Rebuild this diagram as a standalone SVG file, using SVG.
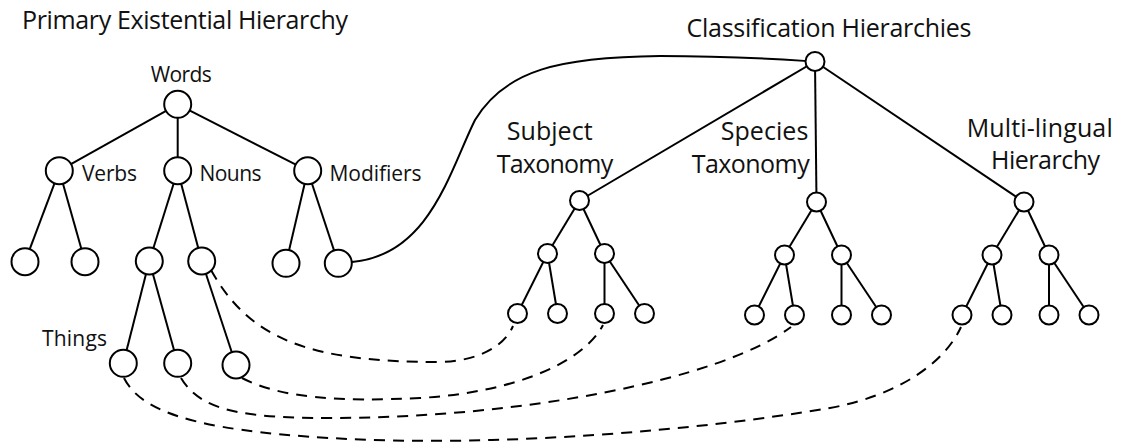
<svg xmlns="http://www.w3.org/2000/svg" width="1123" height="448" viewBox="0 0 1123 448">
<style>
.e{stroke:#000;stroke-width:2;fill:none}
.d{stroke:#000;stroke-width:2;fill:none;stroke-dasharray:11 8}
.n{fill:#fff;stroke:#000;stroke-width:2}
.t{font-family:"Open Sans","Liberation Sans",Arial,sans-serif;fill:#111}
.s{font-size:21px}
.b{font-size:25px}
</style>
<rect width="1123" height="448" fill="#fff"/>
<text class="t b" x="22" y="28.5" textLength="326">Primary Existential Hierarchy</text>
<text class="t b" x="686.5" y="36.7" textLength="285">Classification Hierarchies</text>
<g id="connectors">
  <!-- left tree -->
  <line class="e" x1="177.7" y1="104.3" x2="59.3" y2="170.7"/>
  <line class="e" x1="177.7" y1="104.3" x2="177.7" y2="170.7"/>
  <line class="e" x1="177.7" y1="104.3" x2="307.7" y2="170.7"/>
  <line class="e" x1="59.3" y1="170.7" x2="25" y2="261.7"/>
  <line class="e" x1="59.3" y1="170.7" x2="85" y2="261.7"/>
  <line class="e" x1="177.7" y1="170.7" x2="149.3" y2="261"/>
  <line class="e" x1="177.7" y1="170.7" x2="201.7" y2="261"/>
  <line class="e" x1="307.7" y1="170.7" x2="286" y2="263.3"/>
  <line class="e" x1="307.7" y1="170.7" x2="338.3" y2="263.3"/>
  <line class="e" x1="149.3" y1="261" x2="123.3" y2="363.3"/>
  <line class="e" x1="149.3" y1="261" x2="177.7" y2="363.3"/>
  <line class="e" x1="201.7" y1="261" x2="236" y2="365"/>
  <!-- link Modifiers leaf to Classification -->
  <path class="e" d="M352,262 C430,255 450,170 475,120 C505,70 560,57 660,56 C730,56 775,59 806,61"/>
  <!-- right trees -->
  <line class="e" x1="815" y1="61.5" x2="579.5" y2="200.5"/>
  <line class="e" x1="815" y1="61.5" x2="816.5" y2="202"/>
  <line class="e" x1="815" y1="61.5" x2="1024" y2="202"/>
  <line class="e" x1="579.5" y1="200.5" x2="547.5" y2="253.5"/>
  <line class="e" x1="579.5" y1="200.5" x2="604.5" y2="253.5"/>
  <line class="e" x1="547.5" y1="253.5" x2="517.5" y2="313.5"/>
  <line class="e" x1="547.5" y1="253.5" x2="557.5" y2="313.5"/>
  <line class="e" x1="604.5" y1="253.5" x2="604.5" y2="313.5"/>
  <line class="e" x1="604.5" y1="253.5" x2="644.5" y2="313.5"/>
  <line class="e" x1="816.5" y1="202" x2="784.5" y2="255"/>
  <line class="e" x1="816.5" y1="202" x2="841.5" y2="255"/>
  <line class="e" x1="784.5" y1="255" x2="754.5" y2="315"/>
  <line class="e" x1="784.5" y1="255" x2="794.5" y2="315"/>
  <line class="e" x1="841.5" y1="255" x2="841.5" y2="315"/>
  <line class="e" x1="841.5" y1="255" x2="881.5" y2="315"/>
  <line class="e" x1="1024" y1="202" x2="992" y2="255"/>
  <line class="e" x1="1024" y1="202" x2="1049" y2="255"/>
  <line class="e" x1="992" y1="255" x2="962" y2="315"/>
  <line class="e" x1="992" y1="255" x2="1002" y2="315"/>
  <line class="e" x1="1049" y1="255" x2="1049" y2="315"/>
  <line class="e" x1="1049" y1="255" x2="1089" y2="315"/>
  <!-- dashed cross links -->
  <path class="d" d="M211,270 C250,340 310,362 440,362 C480,361 505,345 513,326"/>
  <path class="d" d="M242,378 C280,398 340,402 420,398 C520,392 585,360 603,325"/>
  <path class="d" d="M181,378 C200,410 240,418 330,418 C520,418 720,380 791,327"/>
  <path class="d" d="M124,378 C140,410 190,430 330,438 C500,448 700,430 830,408 C900,395 945,362 961,327"/>
</g>
<g id="node-words"><circle class="n" cx="177.7" cy="104.3" r="13.5"/><text class="t s" x="181.3" y="81.7" text-anchor="middle" textLength="61">Words</text></g>
<g id="node-verbs"><circle class="n" cx="59.3" cy="170.7" r="13.5"/><text class="t s" x="82" y="181.3" textLength="55">Verbs</text></g>
<g id="node-nouns"><circle class="n" cx="177.7" cy="170.7" r="13.5"/><text class="t s" x="199.5" y="181.3" textLength="62">Nouns</text></g>
<g id="node-modifiers"><circle class="n" cx="307.7" cy="170.7" r="13.5"/><text class="t s" x="329.5" y="181.3" textLength="92">Modifiers</text></g>
<g id="node-verbs-1"><circle class="n" cx="25" cy="261.7" r="13.5"/></g>
<g id="node-verbs-2"><circle class="n" cx="85" cy="261.7" r="13.5"/></g>
<g id="node-nouns-1"><circle class="n" cx="149.3" cy="261" r="13.5"/></g>
<g id="node-nouns-2"><circle class="n" cx="201.7" cy="261" r="13.5"/></g>
<g id="node-modifiers-1"><circle class="n" cx="286" cy="263.3" r="13.5"/></g>
<g id="node-modifiers-2"><circle class="n" cx="338.3" cy="263.3" r="13.5"/></g>
<g id="node-things-1"><circle class="n" cx="123.3" cy="363.3" r="13.5"/><text class="t s" x="42" y="345.5" textLength="65">Things</text></g>
<g id="node-things-2"><circle class="n" cx="177.7" cy="363.3" r="13.5"/></g>
<g id="node-things-3"><circle class="n" cx="236" cy="365" r="13.5"/></g>
<g id="node-classification"><circle class="n" cx="815" cy="61.5" r="9.5"/></g>
<g id="node-subject"><circle class="n" cx="579.5" cy="200.5" r="9.5"/><text class="t b" x="506.7" y="140" textLength="86">Subject</text><text class="t b" x="496.7" y="173.3" textLength="116.6">Taxonomy</text></g>
<g id="node-subject-l"><circle class="n" cx="547.5" cy="253.5" r="9.5"/></g>
<g id="node-subject-r"><circle class="n" cx="604.5" cy="253.5" r="9.5"/></g>
<g id="node-subject-1"><circle class="n" cx="517.5" cy="313.5" r="9.5"/></g>
<g id="node-subject-2"><circle class="n" cx="557.5" cy="313.5" r="9.5"/></g>
<g id="node-subject-3"><circle class="n" cx="604.5" cy="313.5" r="9.5"/></g>
<g id="node-subject-4"><circle class="n" cx="644.5" cy="313.5" r="9.5"/></g>
<g id="node-species"><circle class="n" cx="816.5" cy="202" r="9.5"/><text class="t b" x="720.7" y="139.5" textLength="87.6">Species</text><text class="t b" x="691.7" y="173.3" textLength="118">Taxonomy</text></g>
<g id="node-species-l"><circle class="n" cx="784.5" cy="255" r="9.5"/></g>
<g id="node-species-r"><circle class="n" cx="841.5" cy="255" r="9.5"/></g>
<g id="node-species-1"><circle class="n" cx="754.5" cy="315" r="9.5"/></g>
<g id="node-species-2"><circle class="n" cx="794.5" cy="315" r="9.5"/></g>
<g id="node-species-3"><circle class="n" cx="841.5" cy="315" r="9.5"/></g>
<g id="node-species-4"><circle class="n" cx="881.5" cy="315" r="9.5"/></g>
<g id="node-multilingual"><circle class="n" cx="1024" cy="202" r="9.5"/><text class="t b" x="966.7" y="136.5" textLength="146">Multi-lingual</text><text class="t b" x="991" y="168.5" textLength="109">Hierarchy</text></g>
<g id="node-multilingual-l"><circle class="n" cx="992" cy="255" r="9.5"/></g>
<g id="node-multilingual-r"><circle class="n" cx="1049" cy="255" r="9.5"/></g>
<g id="node-multilingual-1"><circle class="n" cx="962" cy="315" r="9.5"/></g>
<g id="node-multilingual-2"><circle class="n" cx="1002" cy="315" r="9.5"/></g>
<g id="node-multilingual-3"><circle class="n" cx="1049" cy="315" r="9.5"/></g>
<g id="node-multilingual-4"><circle class="n" cx="1089" cy="315" r="9.5"/></g>
</svg>
